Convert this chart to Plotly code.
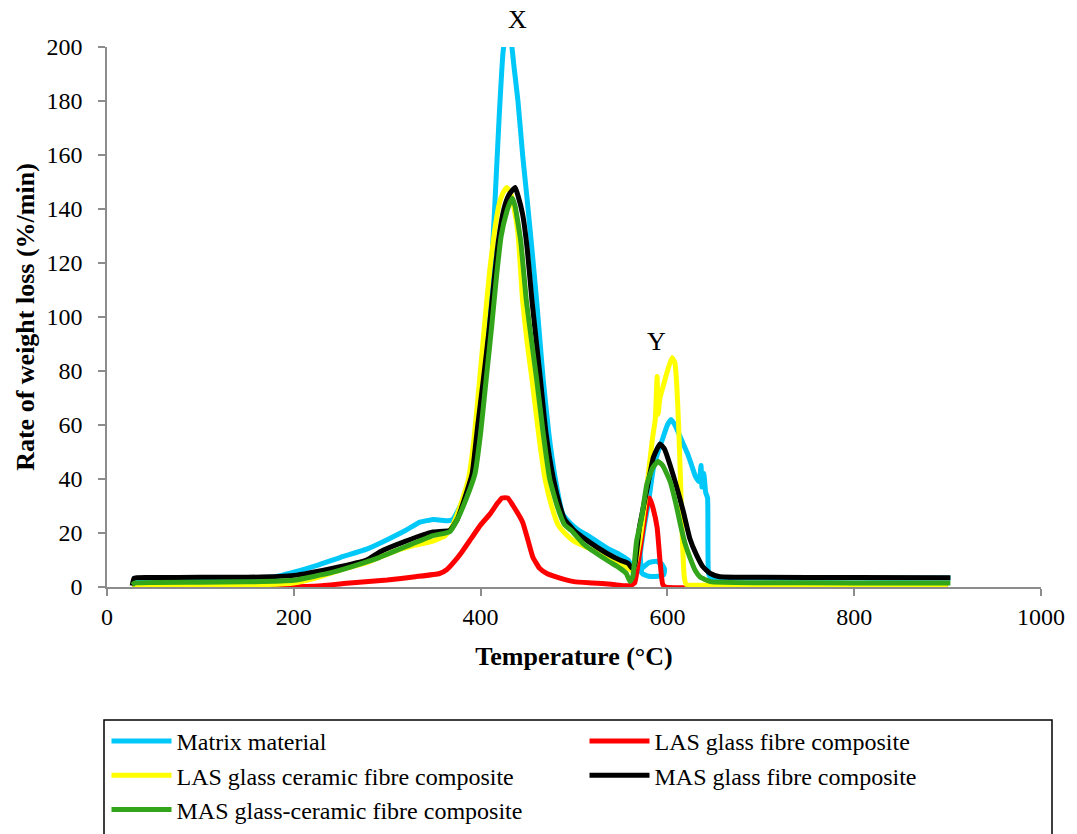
import plotly.graph_objects as go

# Derivative thermogravimetric curves: temperature (°C) vs rate of weight loss (%/min)
temp_matrix = [27, 60, 100, 150, 180, 200, 225, 250, 278, 300, 320, 335, 350, 365, 370, 376,
               382, 389, 395, 400, 405, 410, 415, 420, 424, 428, 432, 436, 440, 445, 450, 455,
               460, 467, 473, 480, 488, 495, 505, 515, 535, 549, 558, 563, 568, 573, 580, 588,
               594, 597, 596, 590, 580, 573, 571, 575, 580, 585, 590, 595, 600, 604, 608, 612,
               617, 622, 626, 630, 634, 636, 637, 639, 641, 643, 644, 647, 660, 700, 750, 800,
               850, 903]
rate_matrix = [3.0, 3.1, 3.2, 3.3, 3.8, 5.5, 8, 11, 14, 17.5, 21, 24, 25, 24.5, 25, 28.5,
               33, 40, 52, 63, 82, 108, 140, 175, 198, 207, 204, 192, 180, 160, 143, 125,
               106, 77, 57, 40, 27, 24, 21, 19, 14.5, 12, 10, 7, 5.5, 7, 9, 9.5,
               8.5, 6.5, 4.5, 4, 4, 5, 12, 22, 32, 44, 50, 55, 60, 62, 60, 57,
               53, 49, 45, 41, 39, 45, 37, 42, 35, 33, 5, 3, 3.3, 3.3, 3.2, 3.3,
               3.2, 3.3]

temp_las_glass = [27, 100, 190, 230, 260, 300, 330, 356, 364, 372, 380, 390, 400, 410, 418, 423,
                  429, 435, 445, 451, 456, 463, 471, 485, 500, 520, 540, 553, 560, 565, 570, 575,
                  578, 581, 584, 589, 592, 595, 598, 700, 900]
rate_las_glass = [0, 0, 0, 0.5, 1.5, 2.6, 3.8, 5, 6.5, 9.5, 13, 18, 23, 27, 31, 33,
                  33, 30, 24, 17, 11, 7, 5, 3.3, 2, 1.5, 1, 0.5, 0.5, 1.5, 12, 24,
                  30, 33, 30, 22, 10, 1, 0, 0, 0]

temp_las_gc = [27, 100, 150, 200, 225, 250, 278, 292, 310, 330, 349, 362, 369, 375, 381, 387,
               393, 399, 405, 410, 415, 420, 424, 428, 432, 436, 440, 445, 450, 455, 462, 469,
               476, 483, 490, 500, 515, 535, 550, 558, 562, 565, 571, 578, 584, 587, 589, 590,
               592, 596, 600, 605, 608, 610, 612, 614, 616, 618, 620, 650, 700, 800, 900]
rate_las_gc = [0.5, 0.6, 0.7, 1.5, 3.5, 6.3, 9, 11, 13.5, 15.5, 17, 19, 22, 27, 33, 40,
               55, 77, 100, 118, 132, 142, 146, 148, 146, 140, 131, 106, 90, 77, 57, 40,
               30, 23, 20, 17, 14.5, 11, 8.5, 7, 6, 8, 18.5, 37, 55, 62, 78, 64,
               70, 75, 80, 85, 83, 75, 60, 40, 18, 4, 1, 0.6, 0.6, 0.6, 0.6]

temp_mas_glass = [27, 29, 50, 100, 150, 200, 242, 278, 292, 320, 349, 367, 375, 385, 391, 397,
                  403, 409, 414, 419, 425, 430, 434, 437, 440, 445, 450, 455, 464, 470, 478, 485,
                  490, 500, 515, 535, 549, 558, 562, 565, 570, 578, 585, 592, 597, 603, 610, 617,
                  624, 631, 638, 646, 656, 700, 800, 903]
rate_mas_glass = [0.5, 3.3, 3.5, 3.6, 3.6, 4.3, 7, 10, 13, 17, 20.4, 21, 25, 35, 42, 60,
                  77, 95, 112, 128, 140, 145, 147, 148, 145, 138, 125, 106, 77, 57, 40, 30,
                  25, 21, 17, 12.5, 10, 8.8, 7, 8, 22, 36, 48, 53, 51, 45, 37, 28,
                  18, 12, 7.5, 5, 3.8, 3.6, 3.5, 3.4]

temp_mas_gc = [27, 30, 100, 150, 200, 242, 278, 292, 320, 349, 367, 375, 385, 394, 400, 406,
               412, 417, 422, 428, 431, 434, 437, 443, 449, 455, 460, 467, 474, 482, 490, 497,
               510, 535, 549, 556, 560, 563, 567, 572, 578, 584, 590, 595, 603, 609, 614, 619,
               624, 630, 635, 646, 700, 800, 903]
rate_mas_gc = [0.8, 1.5, 1.8, 1.9, 2.5, 5.5, 9.3, 11, 15, 19, 20.5, 25, 33, 42, 57, 77,
               97, 115, 130, 139, 142, 144, 141, 128, 106, 90, 77, 57, 40, 30, 23, 21,
               16, 10, 7, 5, 2, 4, 17, 25, 38, 44, 46.5, 45, 39, 31, 23, 16,
               11, 6, 3.7, 2, 1.6, 1.5, 1.5]

series = [
    ("Matrix material", temp_matrix, rate_matrix, "#00c8f8"),
    ("LAS glass fibre composite", temp_las_glass, rate_las_glass, "#ff0000"),
    ("LAS glass ceramic fibre composite", temp_las_gc, rate_las_gc, "#ffff00"),
    ("MAS glass fibre composite", temp_mas_glass, rate_mas_glass, "#000000"),
    ("MAS glass-ceramic fibre composite", temp_mas_gc, rate_mas_gc, "#33a51a"),
]

x_ticks = [0, 200, 400, 600, 800, 1000]
y_ticks = [0, 20, 40, 60, 80, 100, 120, 140, 160, 180, 200]

SERIF = "Liberation Serif"
AXIS_GREY = "#8c8c8c"

fig = go.Figure()
for name, t, r, color in series:
    fig.add_trace(go.Scatter(
        x=t, y=r, name=name, mode="lines",
        line=dict(color=color, width=5, shape="spline", smoothing=0.4),
    ))

fig.update_layout(
    width=1077, height=834,
    margin=dict(l=107, r=36, t=47, b=247, autoexpand=False),
    paper_bgcolor="white", plot_bgcolor="white",
    font=dict(family=SERIF, size=24, color="black"),
    showlegend=True,
    legend=dict(
        orientation="h",
        xref="paper", yref="paper",
        x=-0.5 / 934, xanchor="left",
        y=(587 - 719) / 540, yanchor="top",
        itemwidth=60,
        entrywidth=403, entrywidthmode="pixels",
        traceorder="normal",
        font=dict(family=SERIF, size=24, color="black"),
        bgcolor="rgba(0,0,0,0)",
        borderwidth=0,
    ),
    xaxis=dict(
        range=[0, 1000], tickvals=x_ticks,
        showgrid=False, zeroline=False,
        showline=True, linecolor=AXIS_GREY, linewidth=1.5,
        ticks="outside", ticklen=7, tickcolor=AXIS_GREY, tickwidth=1.5,
        tickfont=dict(family=SERIF, size=24, color="black"),
        title=dict(text="<b>Temperature (°C)</b>", font=dict(family=SERIF, size=26), standoff=18),
    ),
    yaxis=dict(
        range=[0, 200], tickvals=y_ticks,
        showgrid=False, zeroline=False,
        showline=True, linecolor=AXIS_GREY, linewidth=1.5,
        ticks="outside", ticklen=7, tickcolor=AXIS_GREY, tickwidth=1.5,
        ticklabelstandoff=11,
        tickfont=dict(family=SERIF, size=24, color="black"),
        title=dict(text="<b>Rate of weight loss (%/min)</b>", font=dict(family=SERIF, size=26), standoff=4),
    ),
    shapes=[dict(
        type="rect", xref="paper", yref="paper",
        x0=(104 - 107) / 934, x1=(1052 - 107) / 934,
        y0=(587 - 840) / 540, y1=(587 - 720) / 540,
        line=dict(color="black", width=1.5), fillcolor="rgba(0,0,0,0)",
    )],
    annotations=[
        dict(text="X", x=440, xref="x", y=(587 - 20) / 540, yref="paper",
             yanchor="middle", showarrow=False,
             font=dict(family=SERIF, size=26, color="black")),
        dict(text="Y", x=588, xref="x", y=91, yref="y",
             yanchor="middle", showarrow=False,
             font=dict(family=SERIF, size=26, color="black")),
    ],
)

fig.write_html("out.html")
